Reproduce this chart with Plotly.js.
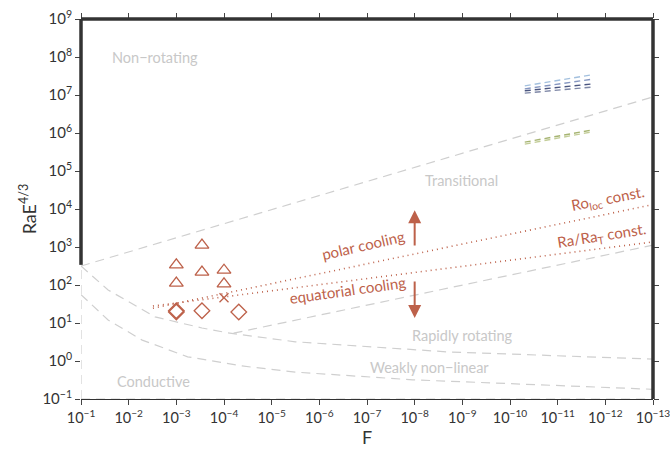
<!DOCTYPE html>
<html>
<head>
<meta charset="utf-8">
<script src="https://cdn.plot.ly/plotly-3.0.1.min.js"></script>
<style>html,body{margin:0;padding:0;background:#fff;}#chart{width:670px;height:449px;}</style>
</head>
<body>
<div id="chart"></div>
<script>
// ---- data (F, RaE^{4/3}) ----
const transF = [1e-1, 1e-13];
const transR = [316, 8.9e6];
const rapidF = [1e-1, 2.7e-2, 2.8e-3, 2.9e-4, 8.3e-5, 1.6e-5, 3.2e-6, 2.1e-9, 1e-13];
const rapidR = [316, 74, 14.5, 7.4, 5.5, 4.1, 3.2, 1.74, 1.12];
const weakF = [1e-1, 2.7e-2, 5.2e-3, 5.8e-4, 4.2e-5, 3.2e-6, 1.1e-8, 1e-13];
const weakR = [56, 12, 3.55, 1.29, 0.74, 0.51, 0.32, 0.18];
const upperRapidF = [6.3e-5, 1e-13];
const upperRapidR = [5.4, 1120];
const condLeftF = [1e-1, 1e-1];
const condLeftR = [0.1, 316];
const condBotF = [1e-1, 1e-13];
const condBotR = [0.1, 0.1];

const roLocF = [3.1e-3, 1.05e-13];
const roLocR = [24.5, 12900];
const raRatF = [3.1e-3, 1.05e-13];
const raRatR = [28, 1350];

const triF = [1e-3, 1e-3, 2.9e-4, 2.9e-4, 1e-4, 1e-4];
const triR = [340, 112, 1120, 219, 245, 107];
const diaF = [1e-3, 1e-3, 2.9e-4, 4.9e-5];
const diaR = [19.5, 21, 21, 19.5];
const crossF = [1e-4];
const crossR = [46];

const blueF = [4.9e-11, 1.9e-12];
const blue1R = [1.74e7, 3.4e7];
const blue2R = [1.45e7, 2.6e7];
const blue3R = [1.29e7, 1.95e7];
const blue4R = [1.12e7, 1.62e7];
const green1R = [5.75e5, 1.2e6];
const green2R = [5.1e5, 1.07e6];

const regionLabels = ["Non\u2212rotating", "Transitional", "Rapidly rotating", "Weakly non\u2212linear", "Conductive"];
const regionF = [2.8e-3, 1.02e-9, 1.0e-9, 4.8e-9, 2.95e-3];
const regionR = [1e8, 5.75e4, 4.8, 0.69, 0.295];

const arrowF = [1e-8, 1e-8];
const arrowHeadR = [9300, 13.5];
const arrowTailR = [1000, 135];

const yTickVals = [0.1, 1, 10, 100, 1e3, 1e4, 1e5, 1e6, 1e7, 1e8, 1e9];
const yTickText = ["10<sup>\u22121</sup>", "10<sup>0</sup>", "10<sup>1</sup>", "10<sup>2</sup>", "10<sup>3</sup>", "10<sup>4</sup>", "10<sup>5</sup>", "10<sup>6</sup>", "10<sup>7</sup>", "10<sup>8</sup>", "10<sup>9</sup>"];
const xTickVals = [1e-1, 1e-2, 1e-3, 1e-4, 1e-5, 1e-6, 1e-7, 1e-8, 1e-9, 1e-10, 1e-11, 1e-12, 1e-13];
const xTickText = ["10<sup>\u22121</sup>", "10<sup>\u22122</sup>", "10<sup>\u22123</sup>", "10<sup>\u22124</sup>", "10<sup>\u22125</sup>", "10<sup>\u22126</sup>", "10<sup>\u22127</sup>", "10<sup>\u22128</sup>", "10<sup>\u22129</sup>", "10<sup>\u221210</sup>", "10<sup>\u221211</sup>", "10<sup>\u221212</sup>", "10<sup>\u221213</sup>"];

// ---- styles ----
const FONT = "Lato, 'Open Sans', sans-serif";
const gray = "#cfcfcf";
const red = "#bd614a";
const L = Math.log10;

const dashG = {color: gray, width: 1.2, dash: "9px,6px"};
function line(x, y, l) { return {x: x, y: y, mode: "lines", line: l, hoverinfo: "skip", showlegend: false}; }
const shortDash = "6px,4px";

const traces = [
  line(transF, transR, dashG),
  line(rapidF, rapidR, dashG),
  line(weakF, weakR, dashG),
  line(upperRapidF, upperRapidR, dashG),
  line(condLeftF, condLeftR, dashG),
  line(condBotF, condBotR, dashG),
  line(roLocF, roLocR, {color: red, width: 1.6, dash: "1px,4px"}),
  line(raRatF, raRatR, {color: red, width: 1.6, dash: "1px,4px"}),
  line(blueF, blue1R, {color: "#a3c0de", width: 1.4, dash: shortDash}),
  line(blueF, blue2R, {color: "#8596c0", width: 1.4, dash: shortDash}),
  line(blueF, blue3R, {color: "#4b5680", width: 1.4, dash: shortDash}),
  line(blueF, blue4R, {color: "#7e87a6", width: 1.4, dash: shortDash}),
  line(blueF, green1R, {color: "#a6b472", width: 1.4, dash: shortDash}),
  line(blueF, green2R, {color: "#c3cd98", width: 1.4, dash: shortDash}),
  {x: triF, y: triR, mode: "markers", hoverinfo: "skip", showlegend: false,
   marker: {symbol: "triangle-up-open", size: 12, color: red, line: {width: 1.3, color: red}}},
  {x: diaF, y: diaR, mode: "markers", hoverinfo: "skip", showlegend: false,
   marker: {symbol: "diamond-open", size: 12, color: red, line: {width: 1.3, color: red}}},
  {x: crossF, y: crossR, mode: "markers", hoverinfo: "skip", showlegend: false,
   marker: {symbol: "x-thin-open", size: 9, color: red, line: {width: 1.3, color: red}}}
];

const annotations = [];
regionLabels.forEach((t, i) => annotations.push({
  x: L(regionF[i]), y: L(regionR[i]), xref: "x", yref: "y", text: t, showarrow: false,
  font: {family: FONT, size: 14.5, color: "#c8c8c8"}
}));
const redLabels = [
  {t: "polar cooling", f: 1.2e-7, r: 1120, a: -13},
  {t: "equatorial cooling", f: 2.6e-7, r: 74, a: -8},
  {t: "Ro<sub>loc</sub> const.", f: 8.7e-13, r: 18200, a: -11},
  {t: "Ra/Ra<sub>T</sub> const.", f: 1.17e-12, r: 1950, a: -9}
];
redLabels.forEach(o => annotations.push({
  x: L(o.f), y: L(o.r), xref: "x", yref: "y", text: o.t, showarrow: false, textangle: o.a,
  font: {family: FONT, size: 15, color: red}
}));
arrowF.forEach((f, i) => annotations.push({
  x: L(f), y: L(arrowHeadR[i]), xref: "x", yref: "y",
  ax: L(f), ay: L(arrowTailR[i]), axref: "x", ayref: "y",
  text: "", showarrow: true, arrowhead: 2, arrowsize: 1.3, arrowwidth: 2, arrowcolor: red, standoff: 0
}));

const frame = {color: "#333333", width: 3.5};
const shapes = [
  {type: "line", xref: "paper", yref: "paper", x0: 0, x1: 1, y0: 1, y1: 1, line: frame, layer: "above"},
  {type: "line", xref: "paper", yref: "paper", x0: 1, x1: 1, y0: 0, y1: 1, line: frame, layer: "above"},
  {type: "line", xref: "paper", yref: "paper", x0: 0, x1: 0, y0: 0.353, y1: 1, line: frame, layer: "above"}
];

const layout = {
  width: 670, height: 449,
  margin: {l: 81, r: 17, t: 19, b: 50},
  paper_bgcolor: "#ffffff", plot_bgcolor: "#ffffff",
  font: {family: FONT, color: "#333333", size: 13},
  showlegend: false,
  xaxis: {
    type: "log", range: [-1, -13], showgrid: false, zeroline: false,
    showline: true, linecolor: "#333333", linewidth: 1.2,
    ticks: "outside", ticklen: 5, tickwidth: 1, tickcolor: "#444444", mirror: "ticks",
    tickmode: "array", tickvals: xTickVals, ticktext: xTickText, ticklabeloverflow: "allow",
    tickfont: {family: FONT, size: 14.5, color: "#333333"},
    title: {text: "F", font: {family: FONT, size: 18, color: "#333333"}, standoff: 6}
  },
  yaxis: {
    type: "log", range: [-1, 9], showgrid: false, zeroline: false,
    showline: false,
    ticks: "outside", ticklen: 5, tickwidth: 1, tickcolor: "#444444", mirror: "ticks",
    tickmode: "array", tickvals: yTickVals, ticktext: yTickText, ticklabeloverflow: "allow",
    tickfont: {family: FONT, size: 15, color: "#333333"},
    title: {text: "RaE<sup>4/3</sup>", font: {family: FONT, size: 18, color: "#333333"}, standoff: 1}
  },
  annotations: annotations,
  shapes: shapes
};

Plotly.newPlot("chart", traces, layout, {displayModeBar: false, staticPlot: true});
</script>
</body>
</html>
